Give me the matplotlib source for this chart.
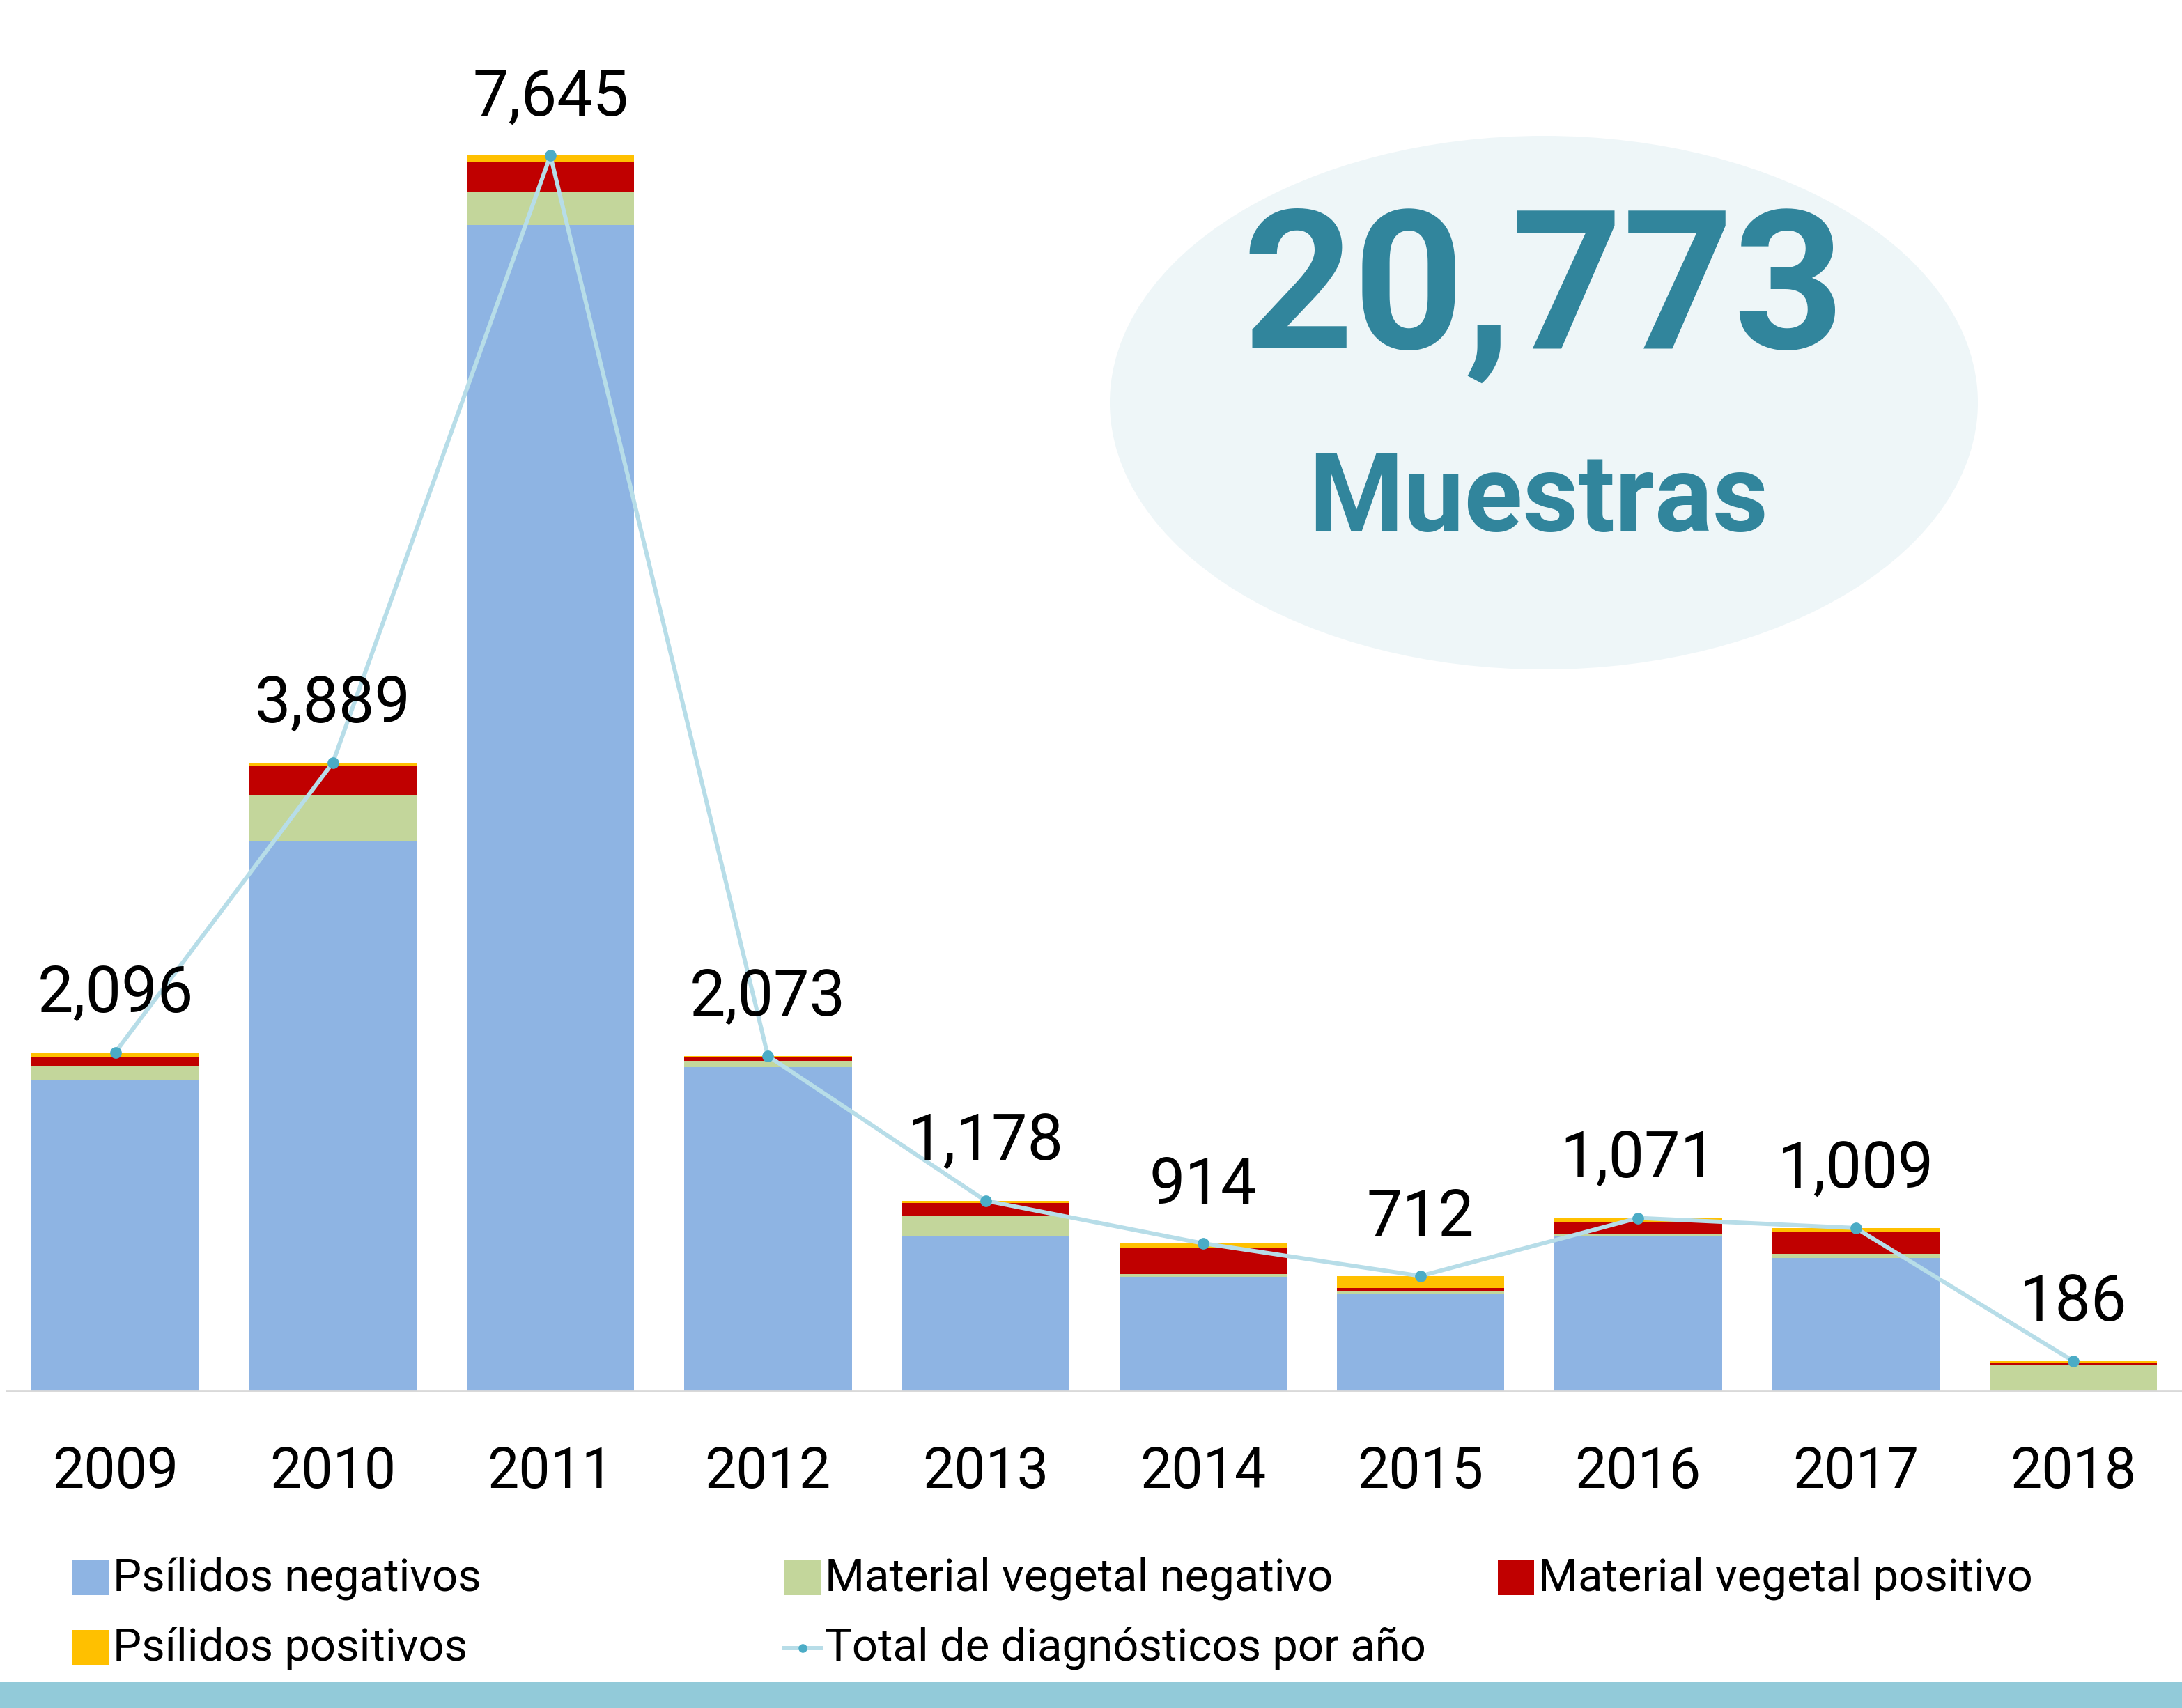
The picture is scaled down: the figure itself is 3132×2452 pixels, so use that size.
import matplotlib
matplotlib.use('Agg')
import matplotlib.pyplot as plt
from matplotlib.patches import Ellipse, Rectangle
from matplotlib.lines import Line2D
import numpy as np

plt.rcParams['font.family'] = ['Roboto', 'DejaVu Sans']

# data
years = ['2009', '2010', '2011', '2012', '2013', '2014', '2015', '2016', '2017', '2018']
psilidos_neg = [1923, 3404, 7217, 2004, 963, 705, 597, 955, 824, 0]
veg_neg = [92, 283, 201, 40, 122, 21, 24, 14, 26, 159]
veg_pos = [56, 178, 191, 20, 79, 164, 19, 78, 137, 13]
psilidos_pos = [25, 24, 36, 9, 14, 24, 72, 24, 22, 14]
totals = [2096, 3889, 7645, 2073, 1178, 914, 712, 1071, 1009, 186]
grand_total = '20,773'

C_BLUE, C_GREEN, C_RED, C_YEL = '#8EB4E3', '#C3D69B', '#C00000', '#FFC000'
C_LINE, C_MARK, C_TEAL = '#B7DDE8', '#4BACC6', '#31859C'

W, H, DPI = 3132, 2452, 100
fig = plt.figure(figsize=(W / DPI, H / DPI), dpi=DPI)
ax = fig.add_axes([0.003, 1 - 1997 / H, 0.997, 1856 / H])
ax.patch.set_visible(False)

x = np.arange(len(years))
bw = 0.77
b1 = np.array(psilidos_neg)
b2 = b1 + np.array(veg_neg)
b3 = b2 + np.array(veg_pos)
ax.bar(x, psilidos_neg, bw, color=C_BLUE, zorder=2)
ax.bar(x, veg_neg, bw, bottom=b1, color=C_GREEN, zorder=2)
ax.bar(x, veg_pos, bw, bottom=b2, color=C_RED, zorder=2)
ax.bar(x, psilidos_pos, bw, bottom=b3, color=C_YEL, zorder=2)
ax.plot(x, totals, color=C_LINE, lw=4.3, marker='o', ms=11,
        mfc=C_MARK, mec=C_MARK, zorder=3)

for xi, t in zip(x, totals):
    ax.annotate(f'{t:,}', (xi, t), xytext=(0, 60), textcoords='offset points',
                ha='center', va='center', fontsize=66, color='black')

ax.set_xlim(-0.5, len(years) - 0.5)
ax.set_ylim(0, 1856 / 0.232)
ax.set_xticks(x)
ax.set_xticklabels(years, fontsize=58)
ax.tick_params(axis='x', length=0, pad=56)
ax.set_yticks([])
for s in ['top', 'right', 'left']:
    ax.spines[s].set_visible(False)
ax.spines['bottom'].set_color('#D9D9D9')
ax.spines['bottom'].set_linewidth(2)

# ellipse with grand total
fig.patches.append(Ellipse((2216 / W, 1 - 578 / H), 1246 / W, 766 / H,
                           transform=fig.transFigure, fc='#EEF6F8', ec='none', zorder=0))
fig.text(2216 / W, 1 - 424 / H, grand_total, ha='center', va='center',
         fontsize=200, fontweight='bold', color=C_TEAL)
fig.text(2208 / W, 1 - 762 / H, 'Muestras', ha='center', va='baseline',
         fontsize=112, fontweight='bold', color=C_TEAL)

# legend
leg_items = [
    ('patch', C_BLUE, 'Psílidos negativos', 104, 2266),
    ('patch', C_GREEN, 'Material vegetal negativo', 1126, 2266),
    ('patch', C_RED, 'Material vegetal positivo', 2150, 2266),
    ('patch', C_YEL, 'Psílidos positivos', 104, 2366),
    ('line', C_LINE, 'Total de diagnósticos por año', 1126, 2366),
]
for kind, col, label, lx, ly in leg_items:
    if kind == 'patch':
        fig.patches.append(Rectangle((lx / W, 1 - (ly + 24) / H), 52 / W, 50 / H,
                                     transform=fig.transFigure, fc=col, ec='none'))
    else:
        fig.lines.append(Line2D([lx / W, (lx + 52) / W], [1 - ly / H] * 2,
                                transform=fig.transFigure, color=col, lw=4.3))
        fig.lines.append(Line2D([(lx + 26) / W], [1 - ly / H], transform=fig.transFigure,
                                marker='o', ms=8, mfc=C_MARK, mec=C_MARK))
    fig.text((lx + 58) / W, 1 - ly / H, label, ha='left', va='center',
             fontsize=47, color='black')

# bottom band
fig.patches.append(Rectangle((0, 0), 1, 38 / H, transform=fig.transFigure,
                             fc='#92CAD9', ec='none'))

fig.savefig('out.png', dpi=DPI, facecolor='white')
